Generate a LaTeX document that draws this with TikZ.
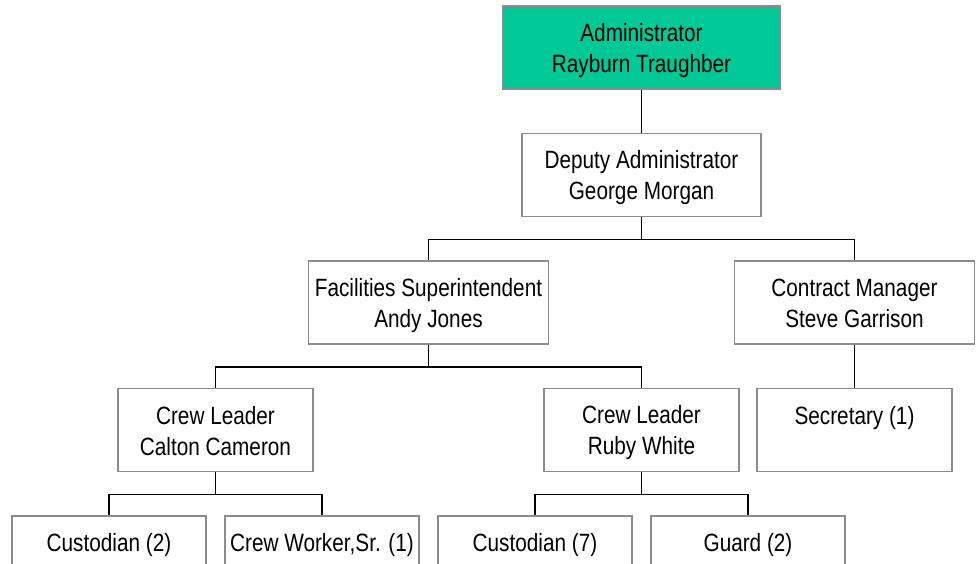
\documentclass[tikz,border=0pt]{standalone}
\usepackage{fontspec}
\setmainfont{Liberation Sans}[FakeStretch=0.83]
\definecolor{admingreen}{RGB}{0,200,150}
\definecolor{boxgray}{RGB}{140,140,140}
\newcommand{\linestrut}{\rule[-4pt]{0pt}{28pt}}
\newcommand{\boxtext}[2]{\linestrut#1\\\linestrut#2}

\begin{document}
\begin{tikzpicture}
[
    x=1pt, y=1pt,
    every node/.style={draw=boxgray, line width=1.3pt, inner sep=0pt,
        minimum height=83pt, align=center,
        font=\fontsize{25}{31}\selectfont},
    edge from parent/.style={draw=black, line width=1.3pt},
    edge from parent path={(\tikzparentnode.south) -- ++(0,-22.5)
        -| (\tikzchildnode.north)},
    level distance=127.5pt,
    level 1/.style={nodes={minimum width=239pt}},
    level 2/.style={sibling distance=426pt, nodes={minimum width=240pt}},
    level 3/.style={sibling distance=426pt, nodes={minimum width=195pt}},
    level 4/.style={sibling distance=213pt, nodes={minimum width=194pt}},
]
\useasboundingbox (0,0) rectangle (979,564);
\node [fill=admingreen, minimum width=277pt] (admin) at (641.5,516.5)
{\boxtext{Administrator}{Rayburn Traughber}}
    child {node (deputy)
{\boxtext{Deputy Administrator}{George Morgan}}
    child {node (facilities)
{\boxtext{Facilities Superintendent}{Andy Jones}}
    child {node (calton)
{\boxtext{Crew Leader}{Calton Cameron}}
    child {node (cust2)
{\boxtext{Custodian (2)}{}}
}    child {node (crewsr)
{\boxtext{Crew Worker,Sr. (1)}{}}
}}    child {node (ruby)
{\boxtext{Crew Leader}{Ruby White}}
    child {node (cust7)
{\boxtext{Custodian (7)}{}}
}    child {node (guard)
{\boxtext{Guard (2)}{}}
}}}    child {node (contract)
{\boxtext{Contract Manager}{Steve Garrison}}
    child {node (secretary)
{\boxtext{Secretary (1)}{}}
}}};
\end{tikzpicture}
\end{document}
